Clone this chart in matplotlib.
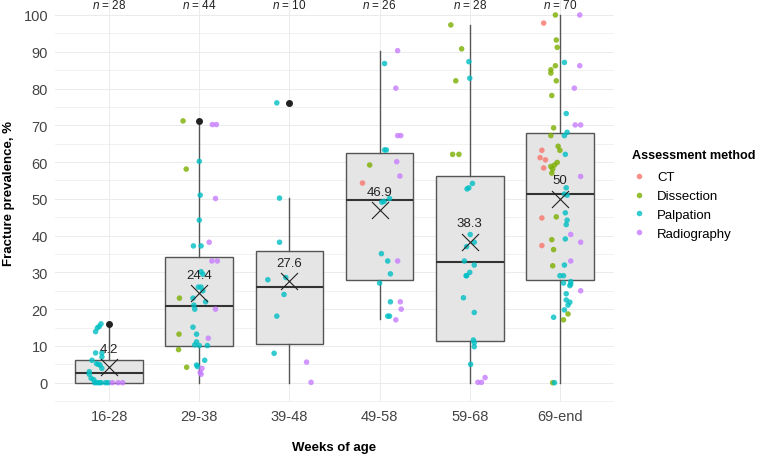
import matplotlib
matplotlib.use("Agg")
import matplotlib.pyplot as plt
from matplotlib.lines import Line2D
import numpy as np

plt.rcParams['font.family'] = ['Liberation Sans', 'DejaVu Sans']
plt.rcParams['mathtext.fontset'] = 'custom'
plt.rcParams['mathtext.it'] = 'Liberation Sans:italic'
plt.rcParams['mathtext.rm'] = 'Liberation Sans'

# categories and summary values
groups = ["16-28", "29-38", "39-48", "49-58", "59-68", "69-end"]
n_obs = [28, 44, 10, 26, 28, 70]
means = [4.2, 24.4, 27.6, 46.9, 38.3, 50]
q1 = [0, 10.0, 10.4, 27.8, 11.3, 27.8]
med = [2.7, 20.8, 26.1, 49.8, 32.7, 51.2]
q3 = [6.3, 34.2, 35.7, 62.4, 56.1, 67.9]
whis_lo = [0, 0, 0, 17.3, 0, 0]
whis_hi = [15.5, 70.2, 50.2, 90.3, 97.3, 100]
outliers = [[16], [71.2], [76.1], [], [], []]

methods = {"C": "CT", "D": "Dissection", "P": "Palpation", "R": "Radiography"}
colors = {"C": "#F8766D", "D": "#7CAE00", "P": "#00BFC4", "R": "#C77CFF"}

# study points per age group: method, prevalence, jitter
m1 = "P" * 22 + "R" * 3
v1 = [13.9, 14.9, 15.3, 16.0, 8.1, 8.1, 6.1, 7.0, 5.2, 5.0, 4.8, 3.9, 3.0, 2.3,
      1.2, 0.8, 0, 0, 0, 0, 0, 0, 0, 0, 0]
j1 = [-0.15, -0.13, -0.11, -0.09, -0.15, -0.08, -0.19, -0.08, -0.14, -0.12, -0.10,
      -0.08, -0.22, -0.22, -0.20, -0.17, -0.16, -0.135, -0.11, -0.09, -0.04, -0.01,
      0.035, 0.10, 0.15]

m2 = "D" * 6 + "P" * 23 + "R" * 11
v2 = [71.2, 58.1, 23.0, 13.2, 9.0, 4.2,
      60.2, 51.0, 44.2, 37.2, 37.2, 30.2, 29.5, 26, 26, 25, 23, 22, 21.1, 20,
      15.1, 13.2, 11.1, 10.3, 10.1, 10.1, 6.1, 4.8, 4.4, 3.9, 2.8, 2.3,
      70.2, 70.2, 50.1, 38.2, 33.1, 33.1, 20.0, 12.1, 10.1, 0, 0.4]
j2 = [-0.18, -0.145, -0.22, -0.225, -0.23, -0.14,
      0, 0.01, 0, -0.065, 0.02, 0.02, 0.04, -0.01, 0.02, 0.04, -0.07, 0.07,
      -0.06, -0.05, -0.07, -0.03, -0.03, -0.05, 0.0, 0.09, 0.06, -0.03, -0.02,
      0.03, 0.01, 0.02,
      0.145, 0.19, 0.18, 0.11, 0.14, 0.2, 0.18, 0.1, 0.17, 0.13, 0.18]

m3 = "P" * 8 + "R" * 2
v3 = [76.1, 50.2, 38.2, 28.0, 28.6, 24.0, 18.1, 8.0, 5.6, 0.1]
j3 = [-0.14, -0.11, -0.11, -0.24, -0.04, -0.06, -0.14, -0.17, 0.19, 0.24]

m4 = "RPRRRPPRDRCPPPPPRPPPRRPPR"
v4 = [90.3, 86.8, 80.1, 67.2, 67.2, 63.3, 63.3, 60.1, 59.2, 56.2, 54.3, 49.1,
      49.3, 50.1, 35.1, 33.1, 33.1, 29.6, 27.1, 22.0, 22.0, 20.0, 18.1, 18.1, 17.1]
j4 = [0.2, 0.055, 0.18, 0.2, 0.235, 0.055, 0.075, 0.19, -0.11, 0.225, -0.19,
      0.025, 0.05, 0.11, 0.02, 0.09, 0.2, 0.12, 0.0, 0.12, 0.23, 0.24, 0.09,
      0.11, 0.18]

m5 = "DDPPDDD" + "P" * 17 + "RRR"
v5 = [97.3, 90.8, 87.3, 82.8, 82.1, 62.1, 62.1,
      54.2, 53.0, 52.7, 40.3, 38.2, 37.0, 33.1, 32.0, 30.0, 29.1, 29.1, 23.1,
      19.1, 11.6, 10.9, 9.8, 5.0,
      1.4, 0.1, 0.1]
j5 = [-0.21, -0.09, -0.01, 0.0, -0.155, -0.19, -0.12,
      0.03, -0.01, -0.03, 0.005, 0.05, -0.035, -0.06, 0.05, 0.0, -0.035, -0.04,
      -0.07, 0.05, 0.04, 0.05, 0.05, 0.01,
      0.17, 0.09, 0.13]

m6 = ("DRCDDPRDDDDRDPRRDDPPDDPCCCCDDDDDRPPPPCDPPRPDRCDRPDPPPPPPRPPPPPDPDDP")
v6 = [100, 100, 97.8, 93.2, 91.2, 87.1, 86.2, 86.2, 85.1, 84.2, 82.1, 80.1, 78.1,
      73.2, 70.1, 70.1, 69.3, 67.2, 67.2, 68.1, 64.3, 63.2, 62.1, 63.2, 61.2,
      60.6, 58.4, 59.9, 59.2, 58.8, 58.1, 57.0, 56.1, 53.0, 51.3, 51.0, 46.2,
      44.8, 45.1, 44.2, 43.0, 40.3, 39.1, 38.9, 38.2, 37.3, 36.2, 33.1, 32.0,
      31.8, 29.1, 29.1, 27.1, 27.5, 26.4, 26.8, 25.0, 24.2, 22.5, 21.9, 21.1,
      19.8, 18.7, 17.8, 17.1, 0, 0, 0]
j6 = [-0.05, 0.22, -0.18, -0.04, -0.03, 0.05, 0.22, -0.05, -0.1, -0.1, -0.04,
      0.16, -0.09, 0.07, 0.17, 0.23, -0.07, -0.1, 0.05, 0.08, -0.02, 0.0, 0.06,
      -0.2, -0.22, -0.16, -0.18, -0.03, -0.06, -0.1, -0.08, -0.09, 0.23, 0.07,
      0.05, 0.08, 0.06, -0.2, -0.04, 0.08, 0.07, 0.12, 0.06, -0.09, 0.23, -0.2,
      -0.07, 0.12, 0.05, -0.08, 0.0, 0.04, 0.04, 0.12, 0.11, 0.12, 0.23, 0.07,
      0.07, 0.11, 0.09, 0.05, 0.09, -0.07, 0.04, -0.08, -0.06, 0.05]

point_meth = [m1, m2, m3, m4, m5, m6]
point_vals = [v1, v2, v3, v4, v5, v6]
point_jit = [j1, j2, j3, j4, j5, j6]

fig = plt.figure(figsize=(7.6, 4.56), dpi=100)
ax = fig.add_axes([0.0724, 0.1158, 0.7355, 0.8838])

pos = np.arange(len(groups))

# grid, theme_minimal style
for y in np.arange(-5, 105, 5):
    ax.axhline(y, color="#EBEBEB", lw=0.7 if y % 10 == 0 else 0.5, zorder=0)
for x in pos:
    ax.axvline(x, color="#EBEBEB", lw=0.7, zorder=0)

stats = []
for i in range(len(groups)):
    stats.append(dict(q1=q1[i], med=med[i], q3=q3[i], whislo=whis_lo[i],
                      whishi=whis_hi[i], fliers=outliers[i], mean=means[i]))

ax.bxp(stats, positions=pos, widths=0.75, patch_artist=True, showcaps=False,
       boxprops=dict(facecolor="#E5E5E5", edgecolor="#555555", lw=1.0),
       medianprops=dict(color="#333333", lw=1.5),
       whiskerprops=dict(color="#555555", lw=1.0),
       flierprops=dict(marker="o", markerfacecolor="#222222",
                       markeredgecolor="#222222", markersize=4),
       zorder=2)

# jittered study points
for i in range(len(groups)):
    for m, v, j in zip(point_meth[i], point_vals[i], point_jit[i]):
        ax.scatter(pos[i] + j, v, s=16, color=colors[m], alpha=0.8,
                   edgecolors="none", zorder=3)

# means
ax.scatter(pos, means, marker="x", s=150, color="#222222", lw=0.8, zorder=4)
for i in range(len(groups)):
    ax.text(pos[i], means[i] + 5, str(means[i]), ha="center", va="center",
            fontsize=9.5, color="#222222", zorder=5)
    ax.text(pos[i], 102.8, r"$n$ = %d" % n_obs[i], ha="center", va="center",
            fontsize=8.5, color="#222222")

ax.set_xlim(-0.6, 5.6)
ax.set_ylim(-5.3, 104.3)
ax.set_xticks(pos)
ax.set_xticklabels(groups)
ax.set_yticks(np.arange(0, 101, 10))
ax.tick_params(length=0, labelsize=10.5, labelcolor="#444444")
ax.tick_params(axis="x", pad=5)
ax.tick_params(axis="y", pad=5)
for s in ax.spines.values():
    s.set_visible(False)

ax.set_xlabel("Weeks of age", fontsize=9.5, fontweight="bold")
ax.set_ylabel("Fracture prevalence, %", fontsize=9.5, fontweight="bold")
ax.xaxis.set_label_coords(0.5, -0.097)
ax.yaxis.set_label_coords(-0.0716, 0.521)

handles = [Line2D([], [], marker="o", ls="none", color=colors[k], alpha=0.8,
                  markersize=4, markeredgewidth=0, label=methods[k])
           for k in ["C", "D", "P", "R"]]
leg = ax.legend(handles=handles, title="Assessment method", loc="upper left",
                bbox_to_anchor=(0.8315, 0.670), bbox_transform=fig.transFigure,
                frameon=False, fontsize=9.5, alignment="left",
                handlelength=1.0, handletextpad=0.9, labelspacing=0.5,
                borderpad=0, borderaxespad=0,
                title_fontproperties={"weight": "bold", "size": 9.1})
leg._legend_box.sep = 7

fig.savefig("out.png", dpi=100)
